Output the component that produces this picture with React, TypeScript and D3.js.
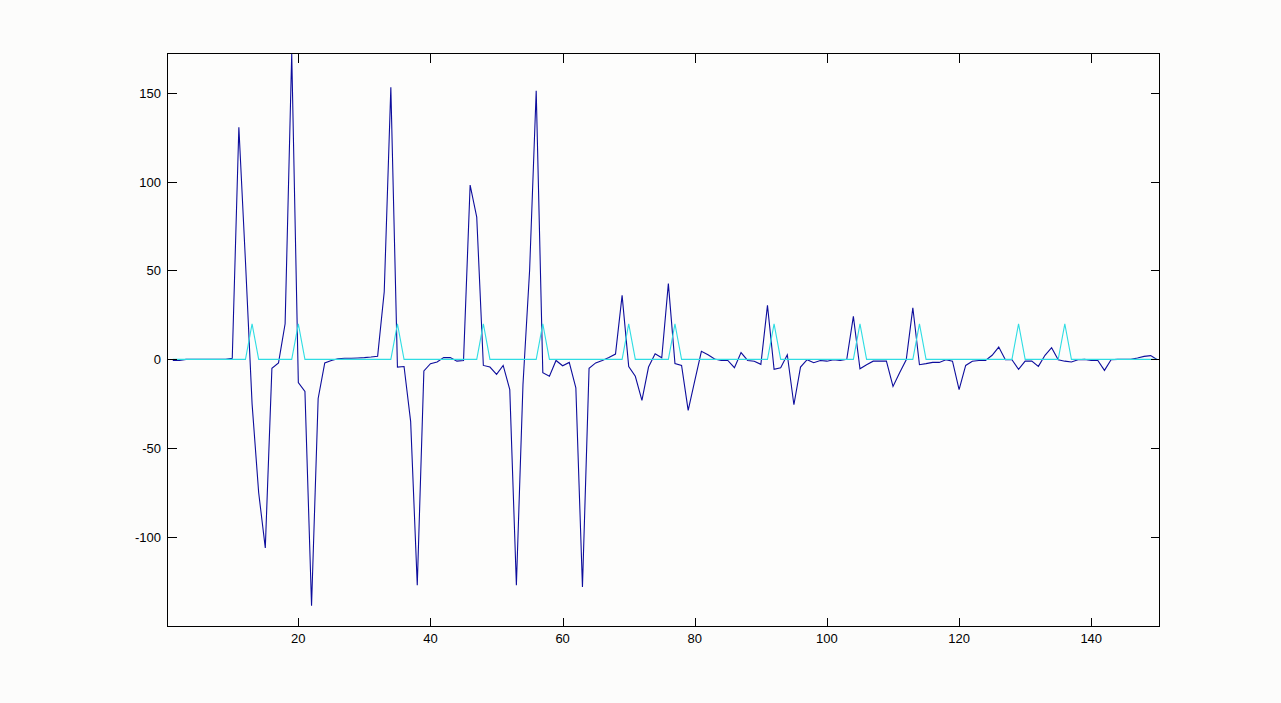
import React from "react";
import * as d3 from "d3";

const xIndex: number[] = d3.range(1, 151);

const blueValues: number[] = [
  -0.6, -0.6, 0, 0, 0, 0, 0, 0, 0, 0.6,
  130.5, 55, -25, -75, -106, -5, -2, 20, 172, -13,
  -18, -138.5, -22, -2, -0.6, 0.4, 0.6, 0.6, 0.8, 1,
  1.3, 1.7, 38, 153, -4.3, -4, -35, -127, -6.5, -2.4,
  -1.5, 1, 1, -1, -0.6, 98, 80, -3.4, -4.3, -8.4,
  -3.4, -17, -127, -14, 50, 151, -7.5, -9.5, -0.6, -3.6,
  -1.7, -16, -128, -5, -2, -0.6, 1, 3, 36, -4,
  -9.5, -23, -4.3, 3.2, 0.9, 42.6, -2.4, -3.4, -28.7, -12,
  4.5, 2.6, 0.2, -0.6, -0.6, -4.7, 3.8, -0.6, -1, -2.8,
  30.4, -5.6, -4.7, 2.6, -25.5, -4.3, -0.2, -1.9, -0.6, -1,
  -0.2, -0.6, 0, 24.2, -5.3, -3, -1, -1, -1, -15.2,
  -7.5, -0.2, 29, -3, -2.4, -1.7, -1.7, -0.2, -1, -17,
  -3.4, -1, -0.6, -0.6, 2.3, 6.9, -0.2, -0.2, -5.6, -1,
  -1, -3.9, 2.3, 6.6, -0.2, -1, -1.5, -0.2, 0, -0.6,
  -0.6, -6.2, -0.2, 0, 0, 0, 0.8, 1.7, 2.1, -0.2,
];

const cyanValues: number[] = [
  0, 0, 0, 0, 0, 0, 0, 0, 0, 0,
  0, 0, 20, 0, 0, 0, 0, 0, 0, 20,
  0, 0, 0, 0, 0, 0, 0, 0, 0, 0,
  0, 0, 0, 0, 20, 0, 0, 0, 0, 0,
  0, 0, 0, 0, 0, 0, 0, 20, 0, 0,
  0, 0, 0, 0, 0, 0, 20, 0, 0, 0,
  0, 0, 0, 0, 0, 0, 0, 0, 0, 20,
  0, 0, 0, 0, 0, 0, 20, 0, 0, 0,
  0, 0, 0, 0, 0, 0, 0, 0, 0, 0,
  0, 20, 0, 0, 0, 0, 0, 0, 0, 0,
  0, 0, 0, 0, 20, 0, 0, 0, 0, 0,
  0, 0, 0, 20, 0, 0, 0, 0, 0, 0,
  0, 0, 0, 0, 0, 0, 0, 0, 20, 0,
  0, 0, 0, 0, 0, 20, 0, 0, 0, 0,
  0, 0, 0, 0, 0, 0, 0, 0, 0, 0,
];

const xTicks: number[] = [20, 40, 60, 80, 100, 120, 140];
const yTicks: number[] = [-100, -50, 0, 50, 100, 150];
const xDomain: [number, number] = [0.2, 150.33];
const yDomain: [number, number] = [-150.2, 172];

const W = 1281;
const H = 703;
const L = 167.5;
const R = 1159.5;
const T = 53.5;
const B = 626.5;
const TICK = 9;

export default function App() {
  const x = d3.scaleLinear().domain(xDomain).range([L, R]);
  const y = d3.scaleLinear().domain(yDomain).range([B, T]);
  const line = d3
    .line<number>()
    .x((_, i) => x(xIndex[i]))
    .y((v) => y(v));

  const font = "'Liberation Sans', Arial, sans-serif";

  return (
    <svg
      width={W}
      height={H}
      style={{ position: "fixed", left: 0, top: 0, background: "#fcfcfb" }}
    >
      <rect x={0} y={0} width={W} height={H} fill="#fcfcfb" />
      <rect x={L} y={T} width={R - L} height={B - T} fill="#fdfdfc" />
      <clipPath id="plotclip">
        <rect x={L} y={T - 1} width={R - L} height={B - T + 2} />
      </clipPath>
      <g clipPath="url(#plotclip)">
        <path d={line(blueValues) || ""} fill="none" stroke="#0d0d9c" strokeWidth={1.1} />
        <path d={line(cyanValues) || ""} fill="none" stroke="#2fdde3" strokeWidth={1.1} />
      </g>
      <g shapeRendering="crispEdges" stroke="#000" strokeWidth={1}>
        <rect x={L} y={T} width={R - L} height={B - T} fill="none" />
        {xTicks.map((t) => (
          <g key={"xt" + t}>
            <line x1={Math.round(x(t)) + 0.5} x2={Math.round(x(t)) + 0.5} y1={B} y2={B - TICK} />
            <line x1={Math.round(x(t)) + 0.5} x2={Math.round(x(t)) + 0.5} y1={T} y2={T + TICK} />
          </g>
        ))}
        {yTicks.map((t) => (
          <g key={"yt" + t}>
            <line x1={L} x2={L + TICK} y1={Math.round(y(t)) + 0.5} y2={Math.round(y(t)) + 0.5} />
            <line x1={R} x2={R - TICK} y1={Math.round(y(t)) + 0.5} y2={Math.round(y(t)) + 0.5} />
          </g>
        ))}
      </g>
      <g fontFamily={font} fontSize={13} fill="#000">
        {xTicks.map((t) => (
          <text key={"xl" + t} x={x(t)} y={643} textAnchor="middle">
            {t}
          </text>
        ))}
        {yTicks.map((t) => (
          <text key={"yl" + t} x={161} y={y(t) + 5} textAnchor="end">
            {t}
          </text>
        ))}
      </g>
    </svg>
  );
}
